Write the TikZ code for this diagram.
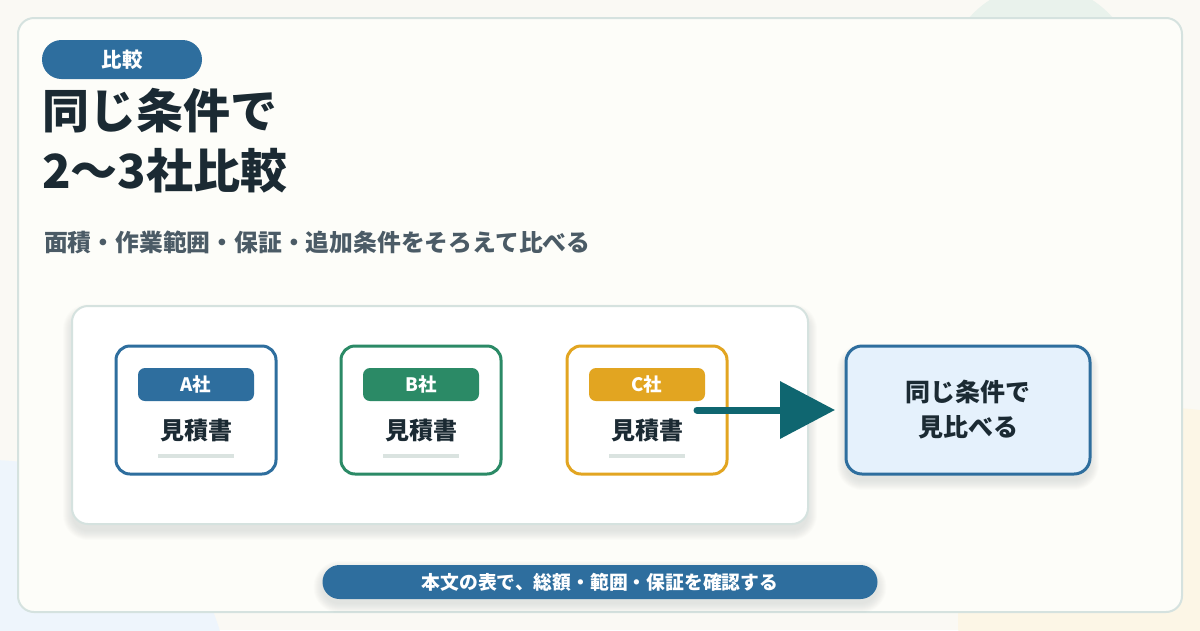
\documentclass[tikz,border=0pt]{standalone}
\usepackage{fontspec}
\setmainfont{Noto Sans CJK JP}
\usetikzlibrary{arrows.meta}
\definecolor{bgc}{HTML}{FAF9F4}
\definecolor{cardc}{HTML}{FDFDF9}
\definecolor{cardline}{HTML}{D5E2DF}
\definecolor{blueC}{HTML}{2E6E9E}
\definecolor{greenC}{HTML}{2B8A66}
\definecolor{goldC}{HTML}{E2A521}
\definecolor{tealC}{HTML}{0F6670}
\definecolor{darkC}{HTML}{1B2A33}
\definecolor{grayC}{HTML}{4B5B66}
\definecolor{barC}{HTML}{DAE3E0}
\definecolor{resC}{HTML}{E5F1FC}
\definecolor{circG}{HTML}{E9F2EC}
\definecolor{circB}{HTML}{EEF5FC}
\definecolor{circY}{HTML}{FCF6E6}
\newcommand\mysh[5]{%
  \foreach \k in {0,...,9}{%
    \fill[black!70!cardline, opacity=0.011, rounded corners={(#5+\k)*1pt}]
      ({#1-#3/2-\k},{#2-#4/2-\k+7}) rectangle ({#1+#3/2+\k},{#2+#4/2+\k+7});}}
\tikzset{
  quote/.style={draw, line width=3pt, fill=white, rounded corners=14pt, minimum width=160pt, minimum height=128pt},
  tagpill/.style={rounded corners=7pt, minimum width=116pt, minimum height=33pt, inner sep=0pt, text=white, font=\fontsize{18.5}{20}\selectfont\bfseries},
  doclabel/.style={text=darkC, inner sep=0pt, font=\fontsize{24}{28}\selectfont\bfseries},
  barline/.style={draw=barC, line width=4pt},
}
\begin{document}
\begin{tikzpicture}[x=1pt,y=-1pt]
\useasboundingbox (0,0) rectangle (1200,630);
% background
\fill[bgc] (0,0) rectangle (1200,630);
\begin{scope}
\clip (0,0) rectangle (1200,630);
\fill[circG] (1041,80) circle (95);
\fill[circB] (-10,700) circle (240);
\fill[circY] (1170,620) circle (212);
\end{scope}
% main card
\node[draw=cardline, line width=2pt, fill=cardc, rounded corners=16pt, minimum width=1164pt, minimum height=594pt, inner sep=0pt] (card) at (600,315) {};
% badge
\node[fill=blueC, rounded corners=19.5pt, minimum width=160pt, minimum height=39pt, inner sep=0pt, text=white, font=\fontsize{20.5}{22}\selectfont\bfseries] (badge) at (122,59.5) {比較};
% title
\node[anchor=west, inner sep=0pt, text=darkC, font=\fontsize{47}{50}\selectfont\bfseries] (title1) at (42,111) {同じ条件で};
\node[anchor=west, inner sep=0pt, text=darkC, font=\fontsize{47}{50}\selectfont\bfseries] (title2) at (42,171) {2〜3社比較};
% subtitle
\node[anchor=west, inner sep=0pt, text=grayC, font=\fontsize{23.8}{26}\selectfont\bfseries] (sub) at (44,242) {面積・作業範囲・保証・追加条件をそろえて比べる};
% inner panel
\mysh{440}{415}{736}{218}{16}
\node[draw=cardline, line width=2pt, fill=white, rounded corners=16pt, minimum width=736pt, minimum height=218pt, inner sep=0pt] (panel) at (440,415) {};
% card A
\node[quote, draw=blueC] (cardA) at (196,410) {};
\node[tagpill, fill=blueC] (tagA) at (196,384.5) {A社};
\node[doclabel] (docA) at (196,430) {見積書};
\coordinate (barA1) at (158,456); \coordinate (barA2) at (234,456);
\draw[barline] (barA1) -- (barA2);
% card B
\node[quote, draw=greenC] (cardB) at (421,410) {};
\node[tagpill, fill=greenC] (tagB) at (421,384.5) {B社};
\node[doclabel] (docB) at (421,430) {見積書};
\coordinate (barB1) at (383,456); \coordinate (barB2) at (459,456);
\draw[barline] (barB1) -- (barB2);
% card C
\node[quote, draw=goldC] (cardC) at (647,410) {};
\node[tagpill, fill=goldC] (tagC) at (647,384.5) {C社};
\node[doclabel] (docC) at (647,430) {見積書};
\coordinate (barC1) at (609,456); \coordinate (barC2) at (685,456);
\draw[barline] (barC1) -- (barC2);
% result
\mysh{968}{410}{244}{128}{16}
\node[draw=blueC, line width=3pt, fill=resC, rounded corners=16pt, minimum width=244pt, minimum height=128pt, inner sep=0pt, align=center, text=darkC, font=\fontsize{25}{35}\selectfont\bfseries] (result) at (968,410) {同じ条件で\\見比べる};
% arrow
\coordinate (arrstart) at (697,410);
\coordinate (arrend) at (835,410);
\draw[tealC, line width=7pt, line cap=round, -{Triangle[length=55pt, width=56pt]}] (arrstart) -- (arrend);
% bottom pill
\mysh{600}{580}{555}{34}{17}
\node[fill=blueC, rounded corners=17pt, minimum width=555pt, minimum height=34pt, inner sep=0pt, text=white, font=\fontsize{18.8}{22}\selectfont\bfseries] (note) at (600,582) {本文の表で、総額・範囲・保証を確認する};
\end{tikzpicture}
\end{document}
